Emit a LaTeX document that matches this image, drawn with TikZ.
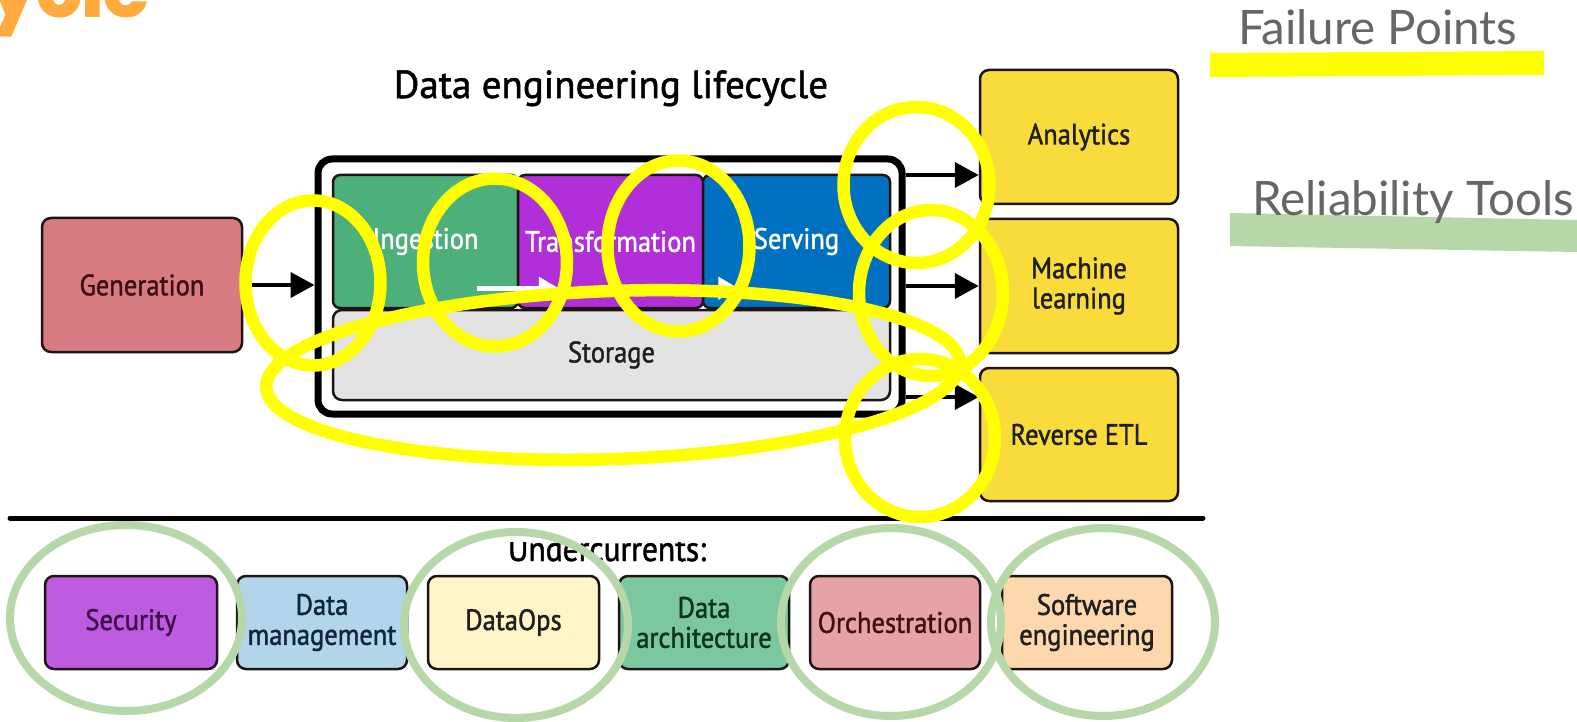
\documentclass[tikz,border=0pt]{standalone}
\usepackage{fontspec}
\setmainfont{PT Sans}
\newfontfamily\dfont[FakeStretch=0.9, FakeBold=1.4]{PT Sans}
\newfontfamily\tfont[FakeBold=1.4]{PT Sans}
\newfontfamily\lfont{Lato}
\newfontfamily\hfont[FakeBold=2.5]{Poppins}
\usetikzlibrary{arrows.meta}

\definecolor{gencol}{HTML}{D97C82}
\definecolor{gentext}{HTML}{3A1014}
\definecolor{ingcol}{HTML}{4DB07B}
\definecolor{trcol}{HTML}{B02FD8}
\definecolor{servcol}{HTML}{0070C0}
\definecolor{storcol}{HTML}{E3E3E3}
\definecolor{outcol}{HTML}{F9DC3C}
\definecolor{seccol}{HTML}{BE5BE0}
\definecolor{sectext}{HTML}{3E1046}
\definecolor{dmcol}{HTML}{B3D5EC}
\definecolor{dmtext}{HTML}{10243A}
\definecolor{dopscol}{HTML}{FFF5C8}
\definecolor{dacol}{HTML}{7BC8A0}
\definecolor{datext}{HTML}{0A3320}
\definecolor{orchcol}{HTML}{E6A2A7}
\definecolor{orchtext}{HTML}{3E1014}
\definecolor{swcol}{HTML}{FDD8AC}
\definecolor{boxline}{HTML}{1E1414}
\definecolor{failyellow}{HTML}{FFFF00}
\definecolor{toolgreen}{HTML}{B6D7A8}
\definecolor{legendgrey}{HTML}{666666}
\definecolor{headorange}{HTML}{FFAB40}

\begin{document}
\begin{tikzpicture}[x=1pt,y=-1pt,
  box/.style={draw=boxline, line width=2.5pt, rounded corners=9pt, inner sep=0pt,
    align=center, text=black!88, font=\dfont\fontsize{29.5}{30}\selectfont},
  stage/.style={box, text=white, rounded corners=7pt},
  arr/.style={draw=black, line width=4pt, -{Triangle[length=24pt,width=25pt]}},
  warr/.style={draw=white, line width=5pt, -{Triangle[length=20pt,width=22pt]}},
  fail/.style={draw=failyellow, line width=12.5pt},
  tool/.style={draw=toolgreen, line width=8pt},
  legend/.style={anchor=base west, text=legendgrey, font=\lfont\fontsize{47.5}{50}\selectfont, inner sep=0pt}
]
\useasboundingbox[fill=white] (0,0) rectangle (1577,722);

% heading fragment in the top-left corner
\begin{scope}
  \clip (0,0) rectangle (400,80);
  \node[anchor=base east, inner sep=0pt, text=headorange,
        font=\hfont\bfseries\fontsize{74}{80}\selectfont] (head) at (149,16) {ycle};
\end{scope}

% title
\node[anchor=base, inner sep=0pt, font=\tfont\fontsize{39}{42}\selectfont] (title) at (611,98) {Data engineering lifecycle};

% source
\node[box, fill=gencol, text=gentext, minimum width=200pt, minimum height=134pt] (gen) at (142,285) {Generation};

% lifecycle frame and its stages
\node[draw=black, fill=white, line width=7pt, rounded corners=14pt,
      minimum width=584pt, minimum height=255pt] (outer) at (610,286.5) {};
\node[stage, fill=ingcol, minimum width=185pt, minimum height=133pt] (ing) at (425.5,241.5) {Ingestion};
\node[stage, fill=trcol, minimum width=185pt, minimum height=133pt] (trans) at (610.5,241.5) {Transformation};
\node[stage, fill=servcol, minimum width=187pt, minimum height=133pt] (serv) at (796.5,241.5) {Serving};
\node[box, fill=storcol, minimum width=557pt, minimum height=90pt] (stor) at (611.5,355) {Storage};

\draw[warr] ([xshift=-40pt,yshift=21pt]trans.south west) -- ([xshift=42pt,yshift=21pt]trans.south west);
\draw[warr] ([xshift=-40pt,yshift=21pt]trans.south east) -- ([xshift=34pt,yshift=21pt]trans.south east);

% outputs
\node[box, fill=outcol, minimum width=198pt, minimum height=134pt] (ana) at (1079,137) {Analytics};
\node[box, fill=outcol, minimum width=198pt, minimum height=134pt] (ml) at (1079,286) {Machine\\learning};
\node[box, fill=outcol, minimum width=198pt, minimum height=133pt] (rev) at (1079,434.5) {Reverse ETL};

% flow arrows
\draw[arr] (gen.east) -- (gen.east -| outer.west);
\draw[arr] (outer.east |- 0,175) -- (ana.west |- 0,175);
\draw[arr] (outer.east |- ml.west) -- (ml.west);
\draw[arr] (outer.east |- 0,397) -- (rev.west |- 0,397);

% separator
\draw[line width=5pt, line cap=round] (10,518) -- (1203,518);

% undercurrents
\begin{scope}
  \clip (0,542) rectangle (1577,600);
  \node[anchor=base, inner sep=0pt, font=\dfont\fontsize{35}{36}\selectfont] (uc) at (607,561) {Undercurrents:};
\end{scope}
\node[box, fill=seccol, text=sectext, minimum width=172pt, minimum height=93pt] (sec) at (131,622.5) {Security};
\node[box, fill=dmcol, text=dmtext, minimum width=170pt, minimum height=93pt] (dm) at (322,622.5) {Data\\management};
\node[box, fill=dopscol, minimum width=171pt, minimum height=93pt] (dops) at (513.5,622.5) {DataOps};
\node[box, fill=dacol, text=datext, minimum width=170pt, minimum height=93pt] (darch) at (704,622.5) {Data\\architecture};
\node[box, fill=orchcol, text=orchtext, minimum width=170pt, minimum height=93pt] (orch) at (895,622.5) {Orchestration};
\node[box, fill=swcol, minimum width=170pt, minimum height=93pt] (sweng) at (1087,622.5) {Software\\engineering};

% failure points
\draw[fail] (313,283) ellipse [x radius=67.5pt, y radius=82.5pt];
\draw[fail] (495,262.5) ellipse [x radius=72pt, y radius=84pt];
\draw[fail] (678.5,246) ellipse [x radius=71pt, y radius=85.5pt];
\draw[fail] (916.5,185) ellipse [x radius=73pt, y radius=78pt];
\draw[fail] (931,293) ellipse [x radius=72pt, y radius=83pt];
\draw[fail] (920,438) ellipse [x radius=75pt, y radius=79pt];
\draw[fail, rotate around={2:(613,375)}] (613,375) ellipse [x radius=347pt, y radius=84pt];

% reliability tools
\draw[tool] (126,618) ellipse [x radius=116pt, y radius=93pt];
\draw[tool] (516,625) ellipse [x radius=112pt, y radius=93pt];
\draw[tool] (891,622) ellipse [x radius=110pt, y radius=94pt];
\draw[tool] (1103,622) ellipse [x radius=112pt, y radius=94pt];

% legend
\fill[failyellow] (1210,53) -- (1544,51) -- (1544,75) -- (1210,77) -- cycle;
\node[legend] (lfail) at (1238,45) {Failure Points};
\fill[toolgreen] (1230,213) -- (1577,220) -- (1577,252) -- (1230,246) -- cycle;
\node[legend] (ltool) at (1252,215) {Reliability Tools};
\end{tikzpicture}
\end{document}
